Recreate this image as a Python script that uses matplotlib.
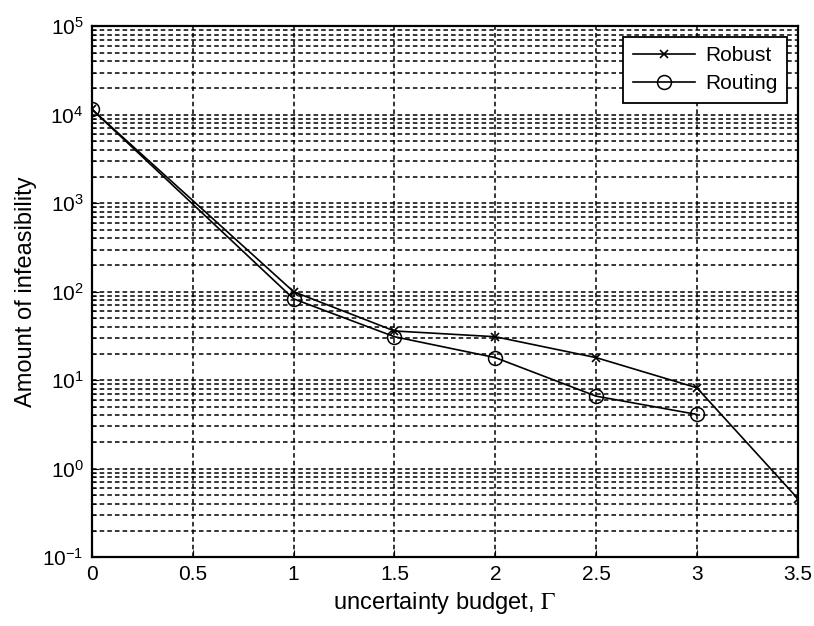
import numpy as np
import matplotlib.pyplot as plt
from matplotlib.ticker import LogLocator, NullFormatter

plt.rcParams['font.family'] = ['Liberation Sans', 'DejaVu Sans']
plt.rcParams['mathtext.fontset'] = 'stix'

gamma_robust = [0, 1, 1.5, 2, 2.5, 3, 3.5]
robust = [1.15e4, 100, 36, 31, 18, 8.2, 0.46]
gamma_routing = [0, 1, 1.5, 2, 2.5, 3]
routing = [1.15e4, 83, 31, 18, 6.6, 4.1]
x_ticks = [0, 0.5, 1, 1.5, 2, 2.5, 3, 3.5]
x_tick_labels = ['0', '0.5', '1', '1.5', '2', '2.5', '3', '3.5']

fig = plt.figure(figsize=(8.14, 6.26), dpi=100)
ax = fig.add_axes([0.113, 0.110, 0.867, 0.848])

ax.plot(gamma_robust, robust, color='black', lw=1.2, marker='x', ms=6, mew=1.2, label='Robust')
ax.plot(gamma_routing, routing, color='black', lw=1.2, marker='o', ms=10, mfc='none', mew=1.1, label='Routing')

ax.set_yscale('log')
ax.set_xlim(0, 3.5)
ax.set_ylim(1e-1, 1e5)
ax.set_xticks(x_ticks)
ax.set_xticklabels(x_tick_labels)
ax.yaxis.set_major_locator(LogLocator(base=10, numticks=10))
ax.yaxis.set_minor_locator(LogLocator(base=10, subs=np.arange(2, 10), numticks=20))
ax.yaxis.set_minor_formatter(NullFormatter())

grid_style = dict(color='black', linestyle=(0, (3, 2)), linewidth=1.1)
ax.grid(True, which='major', axis='both', **grid_style)
ax.grid(True, which='minor', axis='y', **grid_style)

ax.tick_params(which='both', direction='in', labelsize=15, top=False, right=False)
ax.tick_params(which='major', length=5, pad=6)
ax.tick_params(which='minor', length=3)
for s in ax.spines.values():
    s.set_linewidth(1.6)

ax.set_xlabel('uncertainty budget, $\\Gamma$', fontsize=17, labelpad=4)
ax.set_ylabel('Amount of infeasibility', fontsize=17)

leg = ax.legend(loc='upper right', fontsize=15, fancybox=False, framealpha=1,
                edgecolor='black', handlelength=3.0, handletextpad=0.5,
                borderaxespad=0.5, labelspacing=0.45, borderpad=0.45)
leg.get_frame().set_linewidth(1.3)

fig.savefig('out.png', dpi=100)
